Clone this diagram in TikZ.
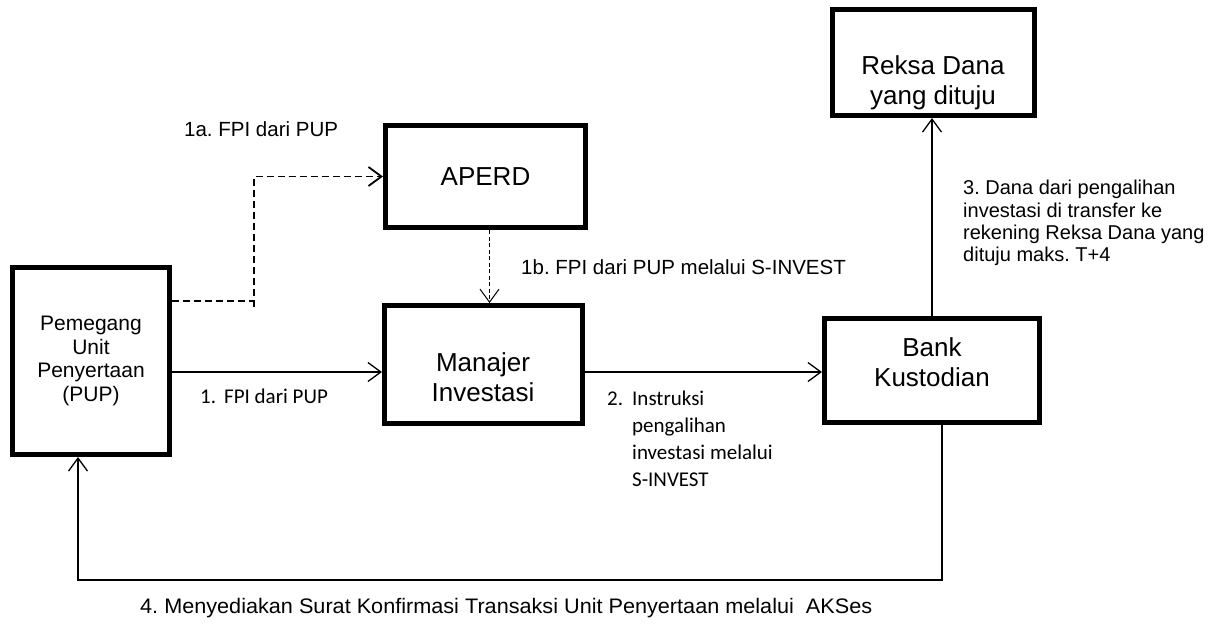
\documentclass[tikz,border=0pt]{standalone}
\usepackage{fontspec}
\setmainfont{Liberation Sans}
\newfontfamily\calfont{Carlito}
\usetikzlibrary{arrows.meta, positioning, calc}
\frenchspacing

\tikzset{
    box/.style={draw, line width=5pt, inner sep=0pt, align=center},
    boxtext/.style={inner sep=0pt, align=center, font=\fontsize{26}{30}\selectfont},
    link/.style={line width=1.3pt},
    dashlink/.style={line width=1.8pt, dash pattern=on 7pt off 4pt},
    finedash/.style={line width=1pt, dash pattern=on 4pt off 2.5pt},
    lbl/.style={inner sep=0pt, align=left, font=\fontsize{20.5}{22.3}\selectfont},
    cal/.style={inner sep=0pt, align=left, font=\calfont\fontsize{21}{27}\selectfont},
    >={Straight Barb[length=13pt, width=19pt]}
}

\begin{document}
\begin{tikzpicture}[x=1pt, y=-1pt]
    \useasboundingbox (0,0) rectangle (1212,630);

    \node[box, minimum width=157, minimum height=187, font=\fontsize{21}{23.5}\selectfont] (pup) at (91,361) {Pemegang\\Unit\\Penyertaan\\(PUP)};
    \node[box, minimum width=200, minimum height=102, font=\fontsize{26}{30}\selectfont] (aperd) at (485.5,176.5) {APERD};
    \node[box, minimum width=198, minimum height=118] (mi) at (483.5,364.5) {};
    \node[box, minimum width=215, minimum height=104] (bk) at (932,370.5) {};
    \node[box, minimum width=202, minimum height=106] (rd) at (933.5,62.5) {};

    \node[boxtext] (mitext) at (483,377) {Manajer\\Investasi};
    \node[boxtext] (bktext) at (932,362) {Bank\\Kustodian};
    \node[boxtext] (rdtext) at (933,83) {Reksa Dana\\yang dituju};

    \coordinate (fork) at (254,301);
    \coordinate (turn) at (942,580);
    \coordinate (back) at (78,580);

    \draw[dashlink] (pup.east |- fork) -- (fork);
    \draw[dashlink, ->] ($(fork)+(0,6)$) |- (aperd.west);
    \draw[finedash, ->] ([xshift=4pt]aperd.south) -- ([xshift=4pt]aperd.south |- mi.north);
    \draw[link, ->] (pup.east |- 0,372) -- (mi.west |- 0,372);
    \draw[link, ->] (mi.east |- 0,372) -- (bk.west |- 0,372);
    \draw[link, ->] (bk.north) -- (bk.north |- rd.south);
    \draw[link, ->] (bk.south -| turn) -- (turn) -- (back) -- (back |- pup.south);

    \node[lbl, anchor=base west] (l1a) at (184,136) {1a. FPI dari PUP};
    \node[lbl, anchor=base west] (l1b) at (521,274) {1b. FPI dari PUP melalui S-INVEST};
    \node[cal, anchor=base west] (l1) at (200,403) {\makebox[24pt][l]{1.}FPI dari PUP};
    \node[cal, anchor=north west] (l2) at (607,391) {\makebox[25pt][l]{2.}Instruksi\\\hspace*{25pt}pengalihan\\\hspace*{25pt}investasi melalui\\\hspace*{25pt}S-INVEST};
    \node[lbl, font=\fontsize{20}{22.3}\selectfont, anchor=north west] (l3) at (963,180) {3. Dana dari pengalihan\\investasi di transfer ke\\rekening Reksa Dana yang\\dituju maks. T+4};
    \node[lbl, font=\fontsize{21}{24}\selectfont, anchor=base west] (l4) at (140,613) {\resizebox{732pt}{\height}{4. Menyediakan Surat Konfirmasi Transaksi Unit Penyertaan melalui\ \ AKSes}};
\end{tikzpicture}
\end{document}
